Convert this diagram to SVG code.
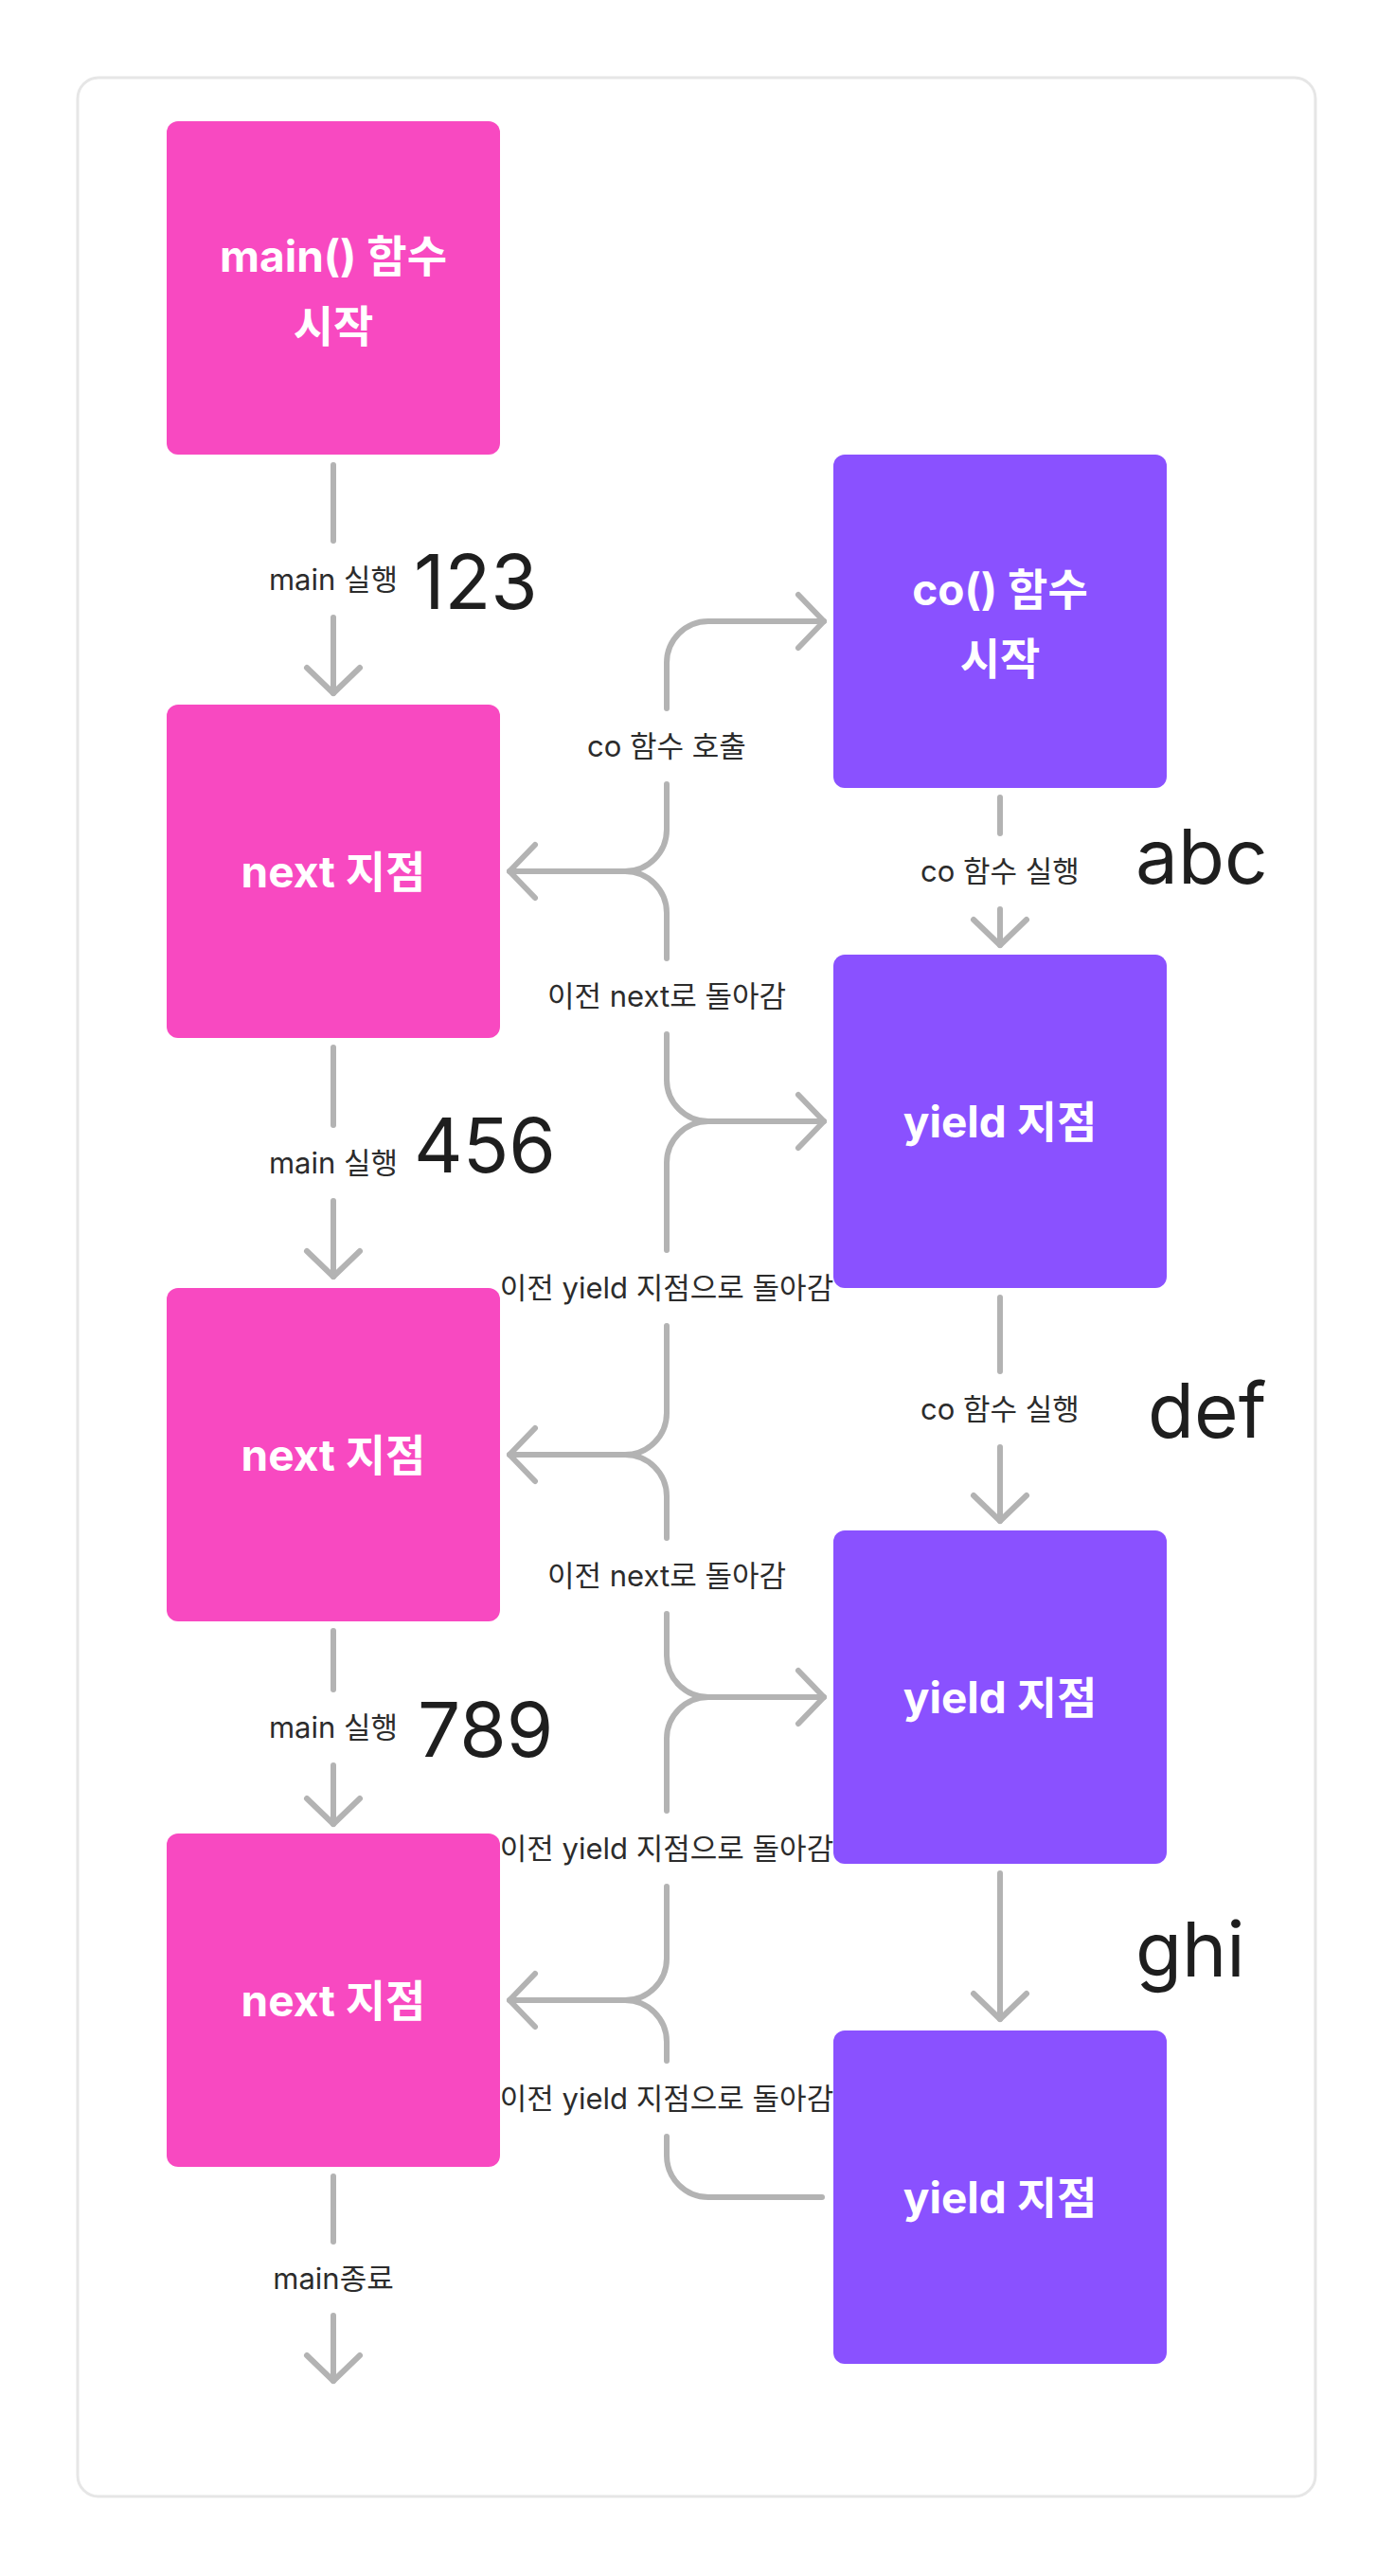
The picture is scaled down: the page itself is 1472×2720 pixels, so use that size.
<svg xmlns="http://www.w3.org/2000/svg" width="1472" height="2720" viewBox="0 0 1472 2720">
<style>
.pink{fill:#F849C1}
.purple{fill:#8A51FF}
.nt{fill:#FFFFFF;font-family:Inter,"Noto Sans CJK KR",sans-serif;font-weight:700;font-size:46px;text-anchor:middle}
.lb{fill:#2C2C2C;font-family:Inter,"Noto Sans CJK KR",sans-serif;font-size:31px;text-anchor:middle}
.num{fill:#1E1E1E;font-family:Inter,"Noto Sans CJK KR",sans-serif;font-size:80px}
.ln{fill:none;stroke:#B3B3B3;stroke-width:6;stroke-linecap:round;stroke-linejoin:round}
.ar{marker-end:url(#arr)}
</style>
<defs>
<marker id="arr" viewBox="-34 -34 40 68" refX="0" refY="0" markerWidth="40" markerHeight="68" markerUnits="userSpaceOnUse" orient="auto">
<path d="M-27,-28 L0,0 L-27,28" fill="none" stroke="#B3B3B3" stroke-width="6" stroke-linecap="round" stroke-linejoin="round"/>
</marker>
</defs>
<rect x="0" y="0" width="1472" height="2720" fill="#FFFFFF"/>
<rect id="frame" x="82" y="82" width="1307" height="2554" rx="22" fill="#FFFFFF" stroke="#E6E6E6" stroke-width="3"/>

<g id="connectors">
<!-- main column -->
<path class="ln" d="M352 491 V571"/>
<path class="ln ar" d="M352 652 V732"/>
<text class="lb" x="352" y="623">main 실행</text>
<path class="ln" d="M352 1106 V1188"/>
<path class="ln ar" d="M352 1268 V1348"/>
<text class="lb" x="352" y="1239">main 실행</text>
<path class="ln" d="M352 1722 V1784"/>
<path class="ln ar" d="M352 1864 V1926"/>
<text class="lb" x="352" y="1835">main 실행</text>
<path class="ln" d="M352 2298 V2367"/>
<path class="ln ar" d="M352 2445 V2514"/>
<text class="lb" x="352" y="2417">main종료</text>
<!-- co column -->
<path class="ln" d="M1056 842 V880"/>
<path class="ln ar" d="M1056 960 V998"/>
<text class="lb" x="1056" y="931">co 함수 실행</text>
<path class="ln" d="M1056 1370 V1448"/>
<path class="ln ar" d="M1056 1528 V1606"/>
<text class="lb" x="1056" y="1499">co 함수 실행</text>
<path class="ln ar" d="M1056 1978 V2132"/>
<!-- middle braces -->
<path class="ln ar" d="M660 920 A44 44 0 0 0 704 876 V828 M704 748 V700 A44 44 0 0 1 748 656 H870"/>
<text class="lb" x="704" y="799">co 함수 호출</text>
<path class="ln ar" d="M748 1184 A44 44 0 0 1 704 1140 V1092 M704 1012 V964 A44 44 0 0 0 660 920 H538"/>
<text class="lb" x="704" y="1063">이전 next로 돌아감</text>
<path class="ln ar" d="M660 1536 A44 44 0 0 0 704 1492 V1400 M704 1320 V1228 A44 44 0 0 1 748 1184 H870"/>
<text class="lb" x="704" y="1371">이전 yield 지점으로 돌아감</text>
<path class="ln ar" d="M748 1792 A44 44 0 0 1 704 1748 V1704 M704 1624 V1580 A44 44 0 0 0 660 1536 H538"/>
<text class="lb" x="704" y="1675">이전 next로 돌아감</text>
<path class="ln ar" d="M660 2112 A44 44 0 0 0 704 2068 V1992 M704 1912 V1836 A44 44 0 0 1 748 1792 H870"/>
<text class="lb" x="704" y="1963">이전 yield 지점으로 돌아감</text>
<path class="ln ar" d="M868 2320 H748 A44 44 0 0 1 704 2276 V2256 M704 2176 V2156 A44 44 0 0 0 660 2112 H538"/>
<text class="lb" x="704" y="2227">이전 yield 지점으로 돌아감</text>
</g>

<g id="numbers">
<text class="num" x="437" y="643">123</text>
<text class="num" x="437" y="1238">456</text>
<text class="num" x="441" y="1855">789</text>
<text class="num" x="1199" y="933">abc</text>
<text class="num" x="1212" y="1518">def</text>
<text class="num" x="1199" y="2087">ghi</text>
</g>

<g id="main-start">
<rect class="pink" x="176" y="128" width="352" height="352" rx="12"/>
<text class="nt" x="352" y="287">main() 함수</text>
<text class="nt" x="352" y="361">시작</text>
</g>
<g id="next-1">
<rect class="pink" x="176" y="744" width="352" height="352" rx="12"/>
<text class="nt" x="352" y="937">next 지점</text>
</g>
<g id="next-2">
<rect class="pink" x="176" y="1360" width="352" height="352" rx="12"/>
<text class="nt" x="352" y="1553">next 지점</text>
</g>
<g id="next-3">
<rect class="pink" x="176" y="1936" width="352" height="352" rx="12"/>
<text class="nt" x="352" y="2129">next 지점</text>
</g>
<g id="co-start">
<rect class="purple" x="880" y="480" width="352" height="352" rx="12"/>
<text class="nt" x="1056" y="639">co() 함수</text>
<text class="nt" x="1056" y="712">시작</text>
</g>
<g id="yield-1">
<rect class="purple" x="880" y="1008" width="352" height="352" rx="12"/>
<text class="nt" x="1056" y="1201">yield 지점</text>
</g>
<g id="yield-2">
<rect class="purple" x="880" y="1616" width="352" height="352" rx="12"/>
<text class="nt" x="1056" y="1809">yield 지점</text>
</g>
<g id="yield-3">
<rect class="purple" x="880" y="2144" width="352" height="352" rx="12"/>
<text class="nt" x="1056" y="2337">yield 지점</text>
</g>
</svg>
